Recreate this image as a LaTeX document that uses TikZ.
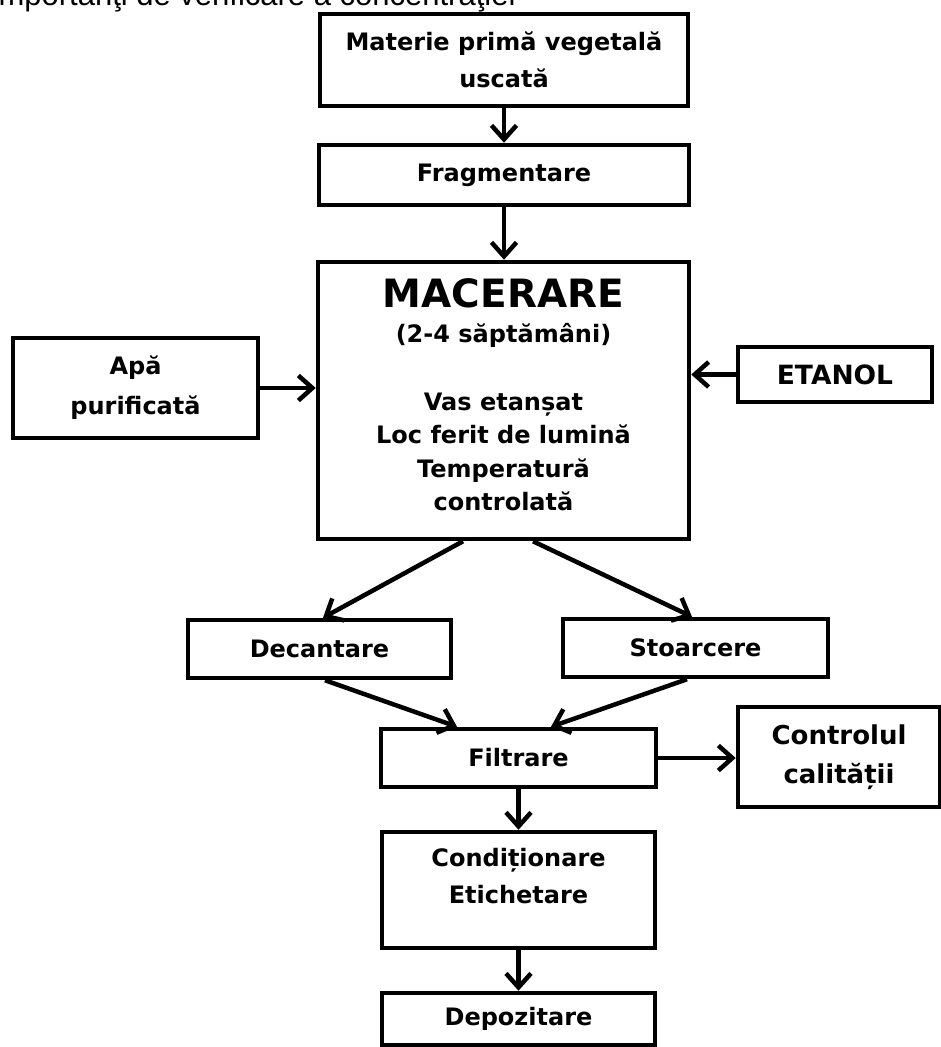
\documentclass[tikz,border=0pt]{standalone}
\usepackage{fontspec}
\setmainfont{DejaVu Sans}
\newfontfamily\arialfont{Liberation Sans}
\usetikzlibrary{arrows.meta,calc}
\begin{document}
\begin{tikzpicture}[x=1pt,y=-1pt,
  box/.style={draw,line width=4.5pt,inner sep=0pt,align=center,
    font=\bfseries\fontsize{24}{38}\selectfont},
  txt/.style={inner sep=0pt,align=center,font=\bfseries\fontsize{24}{38}\selectfont},
  arr/.style={line width=4.5pt,-{Straight Barb[length=14pt,width=25pt]}}]
\useasboundingbox (0,0) rectangle (941,1047);
\clip (0,0) rectangle (941,1047);
\fill[white] (0,0) rectangle (941,1047);
% cut-off line of text above the chart
\node[anchor=base west,inner sep=0pt,font=\arialfont\fontsize{31}{31}\selectfont] (top) at (-8.5,5.5) {importanţi de verificare a concentraţiei};
% boxes
\node[box,minimum width=368pt,minimum height=92pt,font=\bfseries\fontsize{24}{37}\selectfont] (b1) at (504,60) {Materie primă vegetală\\uscată};
\node[box,minimum width=370pt,minimum height=60pt] (frag) at (504,175) {Fragmentare};
\node[box,minimum width=371pt,minimum height=277pt] (mac) at (503.5,400.5) {};
\node[txt,font=\bfseries\fontsize{39}{39}\selectfont] (mact1) at (503.5,293) {MACERARE};
\node[txt] (mact2) at (503.5,335) {(2-4 săptămâni)};
\node[txt,font=\bfseries\fontsize{24}{33.3}\selectfont] (mact3) at (503.5,452) {Vas etanșat\\Loc ferit de lumină\\Temperatură\\controlată};
\node[box,minimum width=245pt,minimum height=100pt,font=\bfseries\fontsize{24}{40}\selectfont] (apa) at (135.5,388) {Apă\\purificată};
\node[box,minimum width=194pt,minimum height=55pt,font=\bfseries\fontsize{26.5}{38}\selectfont] (etanol) at (835,374.5) {ETANOL};
\node[box,minimum width=202pt,minimum height=100pt,font=\bfseries\fontsize{26}{39}\selectfont] (ctrl) at (839,757) {Controlul\\calității};
\node[box,minimum width=263pt,minimum height=58pt] (dec) at (319.5,649) {Decantare};
\node[box,minimum width=265pt,minimum height=58pt] (sto) at (695.5,648) {Stoarcere};
\node[box,minimum width=275pt,minimum height=58pt] (filt) at (518.5,758) {Filtrare};
\node[box,minimum width=273pt,minimum height=116pt] (cond) at (518.5,890) {};
\node[txt,font=\bfseries\fontsize{24}{37}\selectfont] (condt) at (518.5,876) {Condiționare\\Etichetare};
\node[box,minimum width=273pt,minimum height=52pt] (dep) at (518.5,1019) {Depozitare};
% connectors
\draw[arr] (b1.south) -- (b1.south |- frag.north);
\draw[arr] (frag.south) -- (frag.south |- mac.north);
\draw[arr] (apa.east) -- (apa.east -| mac.west);
\draw[arr] (etanol.west) -- (etanol.west -| mac.east);
\draw[arr] ([xshift=-40.5pt]mac.south) -- ([xshift=3.5pt]dec.north);
\draw[arr] ([xshift=29.5pt]mac.south) -- ([xshift=-3.5pt]sto.north);
\draw[arr] ([xshift=5.5pt]dec.south) -- ([xshift=-61.5pt]filt.north);
\draw[arr] ([xshift=-8.5pt]sto.south) -- ([xshift=32.5pt]filt.north);
\draw[arr] (filt.east) -- (filt.east -| ctrl.west);
\draw[arr] (filt.south) -- (filt.south |- cond.north);
\draw[arr] (cond.south) -- (cond.south |- dep.north);
\end{tikzpicture}
\end{document}
